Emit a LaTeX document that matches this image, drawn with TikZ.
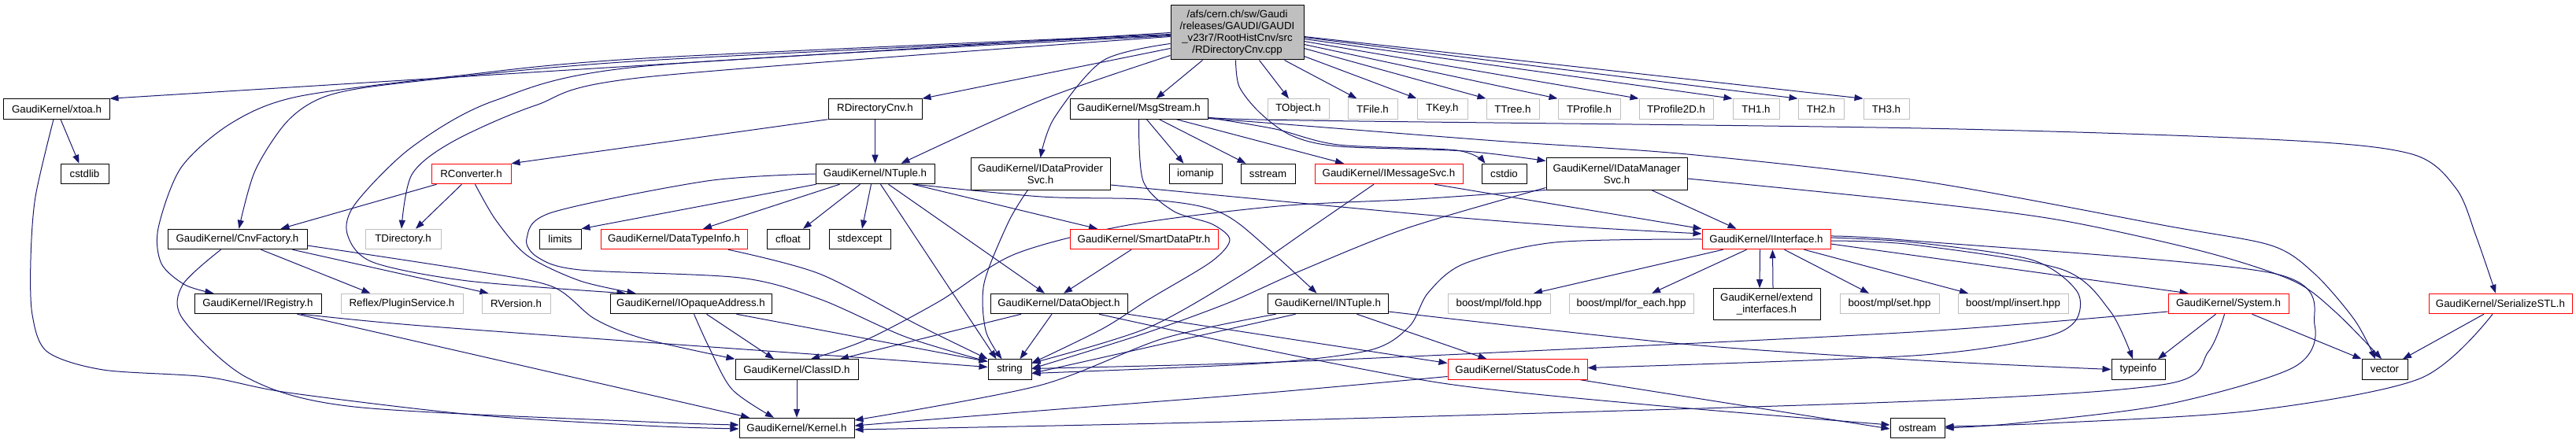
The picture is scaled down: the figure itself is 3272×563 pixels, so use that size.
\documentclass[tikz,border=0pt]{standalone}
\usepackage{fontspec}
\setmainfont{Liberation Sans}
\usetikzlibrary{arrows.meta}
\definecolor{lnkcol}{HTML}{191970}
\definecolor{graybd}{HTML}{BFBFBF}
\definecolor{rootfill}{HTML}{BFBFBF}
\pgfdeclarelayer{back}
\pgfdeclarelayer{bg}
\pgfsetlayers{back,bg,main}
\newcommand\nfont{\fontsize{13.3bp}{15bp}\selectfont}
\begin{document}
\begin{tikzpicture}[x=1bp,y=-1bp,
  nbox/.style={draw=black, line width=1bp, rectangle, inner sep=0pt, minimum height=25.5bp, font=\nfont, align=center, fill=white},
  gbox/.style={nbox, draw=graybd},
  rbox/.style={nbox, draw=red},
  lnk/.style={draw=lnkcol, line width=1bp, -{Triangle[length=11bp,width=8bp]}},
]
\useasboundingbox (0,0) rectangle (3272,563);
\begin{pgfonlayer}{back}
\fill[white] (0,0) rectangle (3272,563);
\end{pgfonlayer}

% ---- nodes
\node[nbox, minimum width=169bp, minimum height=69bp, fill=rootfill] (root) at (1571.5,41.5) {/afs/cern.ch/sw/Gaudi\\/releases/GAUDI/GAUDI\\\_v23r7/RootHistCnv/src\\/RDirectoryCnv.cpp};
% row 1
\node[nbox, minimum width=134bp] (xtoa) at (72,138.5) {GaudiKernel/xtoa.h};
\node[nbox, minimum width=119bp] (rdc) at (1111.5,138.5) {RDirectoryCnv.h};
\node[nbox, minimum width=175bp] (msg) at (1446.5,138.5) {GaudiKernel/MsgStream.h};
\node[gbox, minimum width=78bp] (tobj) at (1649,138.5) {TObject.h};
\node[gbox, minimum width=63bp] (tfile) at (1743.5,138.5) {TFile.h};
\node[gbox, minimum width=64bp] (tkey) at (1832,138.5) {TKey.h};
\node[gbox, minimum width=67bp] (ttree) at (1921.5,138.5) {TTree.h};
\node[gbox, minimum width=79bp] (tprof) at (2018.5,138.5) {TProfile.h};
\node[gbox, minimum width=94bp] (tprof2) at (2129,138.5) {TProfile2D.h};
\node[gbox, minimum width=59bp] (th1) at (2230.5,138.5) {TH1.h};
\node[gbox, minimum width=58bp] (th2) at (2313,138.5) {TH2.h};
\node[gbox, minimum width=58bp] (th3) at (2396,138.5) {TH3.h};
% row 2
\node[nbox, minimum width=61bp] (cstdlib) at (107.5,221) {cstdlib};
\node[rbox, minimum width=101bp] (rconv) at (598.5,221) {RConverter.h};
\node[nbox, minimum width=151bp] (ntuple) at (1111.5,221) {GaudiKernel/NTuple.h};
\node[nbox, minimum width=177bp, minimum height=40bp] (idps) at (1321.5,221) {GaudiKernel/IDataProvider\\Svc.h};
\node[nbox, minimum width=67bp] (iomanip) at (1518.5,221) {iomanip};
\node[nbox, minimum width=69bp] (sstream) at (1610.5,221) {sstream};
\node[rbox, minimum width=188bp] (imsg) at (1764,221) {GaudiKernel/IMessageSvc.h};
\node[nbox, minimum width=57bp] (cstdio) at (1910.5,221) {cstdio};
\node[nbox, minimum width=179bp, minimum height=40bp] (idms) at (2053.5,221) {GaudiKernel/IDataManager\\Svc.h};
% row 3
\node[nbox, minimum width=177bp] (cnvf) at (301.5,304) {GaudiKernel/CnvFactory.h};
\node[gbox, minimum width=96bp] (tdir) at (512,304) {TDirectory.h};
\node[nbox, minimum width=53bp] (limits) at (711.5,304) {limits};
\node[rbox, minimum width=186bp] (dti) at (856,304) {GaudiKernel/DataTypeInfo.h};
\node[nbox, minimum width=54bp] (cfloat) at (1001,304) {cfloat};
\node[nbox, minimum width=78bp] (stdexcept) at (1092,304) {stdexcept};
\node[rbox, minimum width=188bp] (sdp) at (1453,304) {GaudiKernel/SmartDataPtr.h};
\node[rbox, minimum width=163bp] (iif) at (2243.5,304) {GaudiKernel/IInterface.h};
% row 4
\node[nbox, minimum width=161bp] (ireg) at (327.5,386) {GaudiKernel/IRegistry.h};
\node[gbox, minimum width=155bp] (reflex) at (510.5,386) {Reflex/PluginService.h};
\node[gbox, minimum width=87bp] (rver) at (655.5,386) {RVersion.h};
\node[nbox, minimum width=205bp] (ioa) at (877.5,386) {GaudiKernel/IOpaqueAddress.h};
\node[nbox, minimum width=174bp] (dobj) at (1345,386) {GaudiKernel/DataObject.h};
\node[nbox, minimum width=153bp] (intuple) at (1686.5,386) {GaudiKernel/INTuple.h};
\node[gbox, minimum width=130bp] (fold) at (1904,386) {boost/mpl/fold.hpp};
\node[gbox, minimum width=158bp] (foreach) at (2072,386) {boost/mpl/for\_each.hpp};
\node[nbox, minimum width=136bp, minimum height=40bp] (extif) at (2244,386.7) {GaudiKernel/extend\\\_interfaces.h};
\node[gbox, minimum width=126bp] (mplset) at (2400,386) {boost/mpl/set.hpp};
\node[gbox, minimum width=140bp] (mplinsert) at (2557,386) {boost/mpl/insert.hpp};
\node[rbox, minimum width=153bp] (system) at (2830.5,386) {GaudiKernel/System.h};
\node[rbox, minimum width=182bp] (sstl) at (3176,386) {GaudiKernel/SerializeSTL.h};
% row 5
\node[nbox, minimum width=156bp] (classid) at (1012,469.5) {GaudiKernel/ClassID.h};
\node[nbox, minimum width=55bp] (string) at (1282.5,469.5) {string};
\node[rbox, minimum width=177bp] (status) at (1927.5,469.5) {GaudiKernel/StatusCode.h};
\node[nbox, minimum width=68bp] (typeinfo) at (2716,469.5) {typeinfo};
\node[nbox, minimum width=58bp] (vector) at (3029,469.5) {vector};
% row 6
\node[nbox, minimum width=146bp] (kernel) at (1012,544) {GaudiKernel/Kernel.h};
\node[nbox, minimum width=69bp] (ostream) at (2435.5,544) {ostream};

\begin{pgfonlayer}{bg}
% ---- root
\draw[lnk] (root.west) -- (xtoa.north east);
\draw[lnk] plot[smooth] coordinates {([yshift=-2bp]root.west) (820,74) (575,97) (377,123) (293,157) (230,213) (201,290) (205,335) (235,362) ([xshift=25bp]ireg.north west)};
\draw[lnk] plot[smooth] coordinates {([yshift=-3bp]root.west) (820,77) (523,104) (418,121) (366,153) (324,217) ([xshift=2bp]cnvf.north)};
\draw[lnk] plot[smooth] coordinates {([yshift=-4bp]root.west) (820,84) (628,128) (523,187) (452,258) (441,297) (473,333) (594,357) ([xshift=20bp]ioa.north west)};
\draw[lnk] plot[smooth] coordinates {([yshift=-5bp]root.west) (820,98) (680,134) (575,180) (523,222) ([xshift=-2bp]tdir.north)};
\draw[lnk] ([yshift=-20bp]root.west) -- (rdc.north east);
\draw[lnk] plot[smooth] coordinates {([yshift=-29bp]root.west) (1323,127) ([xshift=33bp]ntuple.north)};
\draw[lnk] plot[smooth] coordinates {([yshift=-14bp]root.west) (1401,77) (1339,150) (idps.north)};
\draw[lnk] ([xshift=-44bp]root.south) -- ([xshift=22bp]msg.north);
\draw[lnk] ([xshift=28bp]root.south) -- ([xshift=-12bp]tobj.north);
\draw[lnk] ([xshift=60bp]root.south) -- ([xshift=-20bp]tfile.north);
\draw[lnk] ([yshift=-30bp]root.east) -- (tkey.north west);
\draw[lnk] ([yshift=-20bp]root.east) -- (ttree.north west);
\draw[lnk] ([yshift=-15bp]root.east) -- (tprof.north west);
\draw[lnk] ([yshift=-11bp]root.east) -- (tprof2.north west);
\draw[lnk] ([yshift=-8bp]root.east) -- (th1.north west);
\draw[lnk] ([yshift=-6bp]root.east) -- (th2.north west);
\draw[lnk] ([yshift=-5bp]root.east) -- (th3.north west);
\draw[lnk] plot[smooth] coordinates {([xshift=-2bp]root.south) (1574,110) (1600,143) (1640,172) (1700,186) (1860,192) ([yshift=-4bp]idms.north west)};
% ---- MsgStream
\draw[lnk] ([xshift=10bp]msg.south) -- ([xshift=-15bp]iomanip.north);
\draw[lnk] ([xshift=26bp]msg.south) -- ([xshift=-28bp]sstream.north);
\draw[lnk] ([xshift=48bp]msg.south) -- ([xshift=-57bp]imsg.north);
\draw[lnk] plot[smooth] coordinates {([yshift=-11bp]msg.east) (1620,164) (1700,184) (1850,191) ([xshift=5bp]cstdio.north west)};
\draw[lnk] plot[smooth] coordinates {([yshift=-8bp]msg.east) (1620,152.5) (2440,163) (2900,178) (3064,196) (3120,240) (3145,300) ([xshift=-6bp]sstl.north)};
\draw[lnk] plot[smooth] coordinates {([yshift=-12bp]msg.east) (1620,157) (1900,179) (2143,196) (2440,230) (2752,287) (2885,312) (2940,348) (2991,407) ([xshift=-12bp]vector.north)};
\draw[lnk] plot[smooth] coordinates {(msg.south) (1452,230) (1490,268) (1540,285) (1562,305) (1538,333) (1460,380) (1400,418) ([yshift=8bp]string.east)};
% ---- RDirectoryCnv.h
\draw[lnk] (rdc) -- (ntuple);
\draw[lnk] (rdc.south west) -- (rconv.north east);
% ---- RConverter.h
\draw[lnk] ([xshift=-44bp]rconv.south) -- ([xshift=55bp]cnvf.north);
\draw[lnk] ([xshift=-12bp]rconv.south) -- ([xshift=16bp]tdir.north);
\draw[lnk] plot[smooth] coordinates {([xshift=5bp]rconv.south) (630,280) (670,325) (737,357) ([xshift=33bp]ioa.north west)};
% ---- xtoa.h
\draw[lnk] ([xshift=5bp]xtoa.south) -- ([xshift=-7bp]cstdlib.north);
\draw[lnk] plot[smooth] coordinates {([xshift=-4bp]xtoa.south) (45,250) (39,330) (41,400) (60,447) (131,470) (262,479) (366,499) (600,527) (820,541) ([yshift=-1bp]kernel.west)};
% ---- CnvFactory.h
\draw[lnk] plot[smooth] coordinates {([xshift=-21bp]cnvf.south) (232,362) (232,405) (314,480) (450,517) (820,536) ([yshift=4bp]kernel.west)};
\draw[lnk] ([xshift=30bp]cnvf.south) -- ([xshift=-40bp]reflex.north);
\draw[lnk] ([xshift=70bp]cnvf.south) -- ([xshift=-35bp]rver.north);
\draw[lnk] plot[smooth] coordinates {([yshift=-8bp]cnvf.east) (594,343) (701,364) (755,405) (816,430) (classid.north west)};
% ---- IRegistry.h
\draw[lnk] ([xshift=50bp]ireg.south) -- ([xshift=-60bp]kernel.north);
\draw[lnk] plot[smooth] coordinates {([xshift=55bp]ireg.south) (523,413) (820,435) (1100,455) ([yshift=3bp]string.west)};
% ---- IOpaqueAddress.h
\draw[lnk] ([xshift=20bp]ioa.south) -- ([xshift=-29bp]classid.north);
\draw[lnk] plot[smooth] coordinates {([xshift=4bp]ioa.south) (900,440) (930,495) ([xshift=-29bp]kernel.north)};
\draw[lnk] ([xshift=58bp]ioa.south) -- ([yshift=10bp]string.west);
% ---- ClassID.h
\draw[lnk] (classid) -- (kernel);
% ---- NTuple.h
\draw[lnk] ([xshift=-75bp]ntuple.south) -- (limits.north east);
\draw[lnk] ([xshift=-45bp]ntuple.south) -- ([xshift=37bp]dti.north);
\draw[lnk] ([xshift=-19bp]ntuple.south) -- ([xshift=19bp]cfloat.north);
\draw[lnk] ([xshift=-5bp]ntuple.south) -- ([xshift=3bp]stdexcept.north);
\draw[lnk] ([xshift=7bp]ntuple.south) -- ([xshift=-17bp]string.north);
\draw[lnk] ([xshift=17bp]ntuple.south) -- ([xshift=-18bp]dobj.north);
\draw[lnk] ([xshift=48bp]ntuple.south) -- ([xshift=-59bp]sdp.north);
\draw[lnk] plot[smooth] coordinates {([xshift=50bp]ntuple.south) (1323,250) (1450,253) (1528,263) (1576,286) ([xshift=-14bp]intuple.north)};
\draw[lnk] plot[smooth] coordinates {(ntuple.west) (898,230) (701,270) (669,303) (683,327) (737,343) (940,353) (1041,380) (1150,428) ([yshift=10bp]string.west)};
% ---- DataTypeInfo.h / SmartDataPtr.h
\draw[lnk] plot[smooth] coordinates {([xshift=69bp]dti.south) (1041,348) (1166,413) (string.north west)};
\draw[lnk] ([xshift=-16bp]sdp.south) -- ([xshift=6bp]dobj.north);
% ---- IDataProviderSvc.h
\draw[lnk] plot[smooth] coordinates {([xshift=-16bp]idps.south) (1281,282) (1250,360) (1252,420) ([xshift=-10bp]string.north)};
\draw[lnk] plot[smooth] coordinates {([yshift=-14bp]idps.east) (1800,272) (2000,288) ([yshift=7bp]iif.west)};
% ---- IMessageSvc.h
\draw[lnk] plot[smooth] coordinates {([xshift=-19bp]imsg.south) (1664,290) (1576,350) (1457,417) ([yshift=8bp]string.east)};
\draw[lnk] ([xshift=58bp]imsg.south) -- (iif.north west);
% ---- IDataManagerSvc.h
\draw[lnk] ([xshift=44bp]idms.south) -- ([xshift=-38bp]iif.north);
\draw[lnk] plot[smooth] coordinates {(idms.south west) (1800,253) (1624,262) (1433,286) (1289,323) (1193,383) (1100,432) ([xshift=18bp]classid.north)};
\draw[lnk] plot[smooth] coordinates {([yshift=3bp]idms.south west) (1787,290) (1650,345) (1560,385) (1450,425) ([yshift=1bp]string.east)};
\draw[lnk] plot[smooth] coordinates {([yshift=-6bp]idms.east) (2440,257) (2618,280) (2800,320) (2913,357) (2967,397) ([xshift=-4bp]vector.north)};
% ---- INTuple.h
\draw[lnk] ([xshift=-41bp]intuple.south) -- ([yshift=-5bp]string.east);
\draw[lnk] plot[smooth] coordinates {([xshift=-66bp]intuple.south) (1478,430) (1320,490) ([yshift=10bp]kernel.east)};
\draw[lnk] ([xshift=37bp]intuple.south) -- ([xshift=-39bp]status.north);
\draw[lnk] plot[smooth] coordinates {([yshift=-10bp]intuple.east) (2136,437) (2440,458) (typeinfo.west)};
% ---- DataObject.h
\draw[lnk] ([xshift=-48bp]dobj.south) -- ([xshift=55bp]classid.north);
\draw[lnk] ([xshift=-9bp]dobj.south) -- ([xshift=13bp]string.north);
\draw[lnk] (dobj.south east) -- ([yshift=8bp]status.west);
\draw[lnk] plot[smooth] coordinates {([xshift=51bp]dobj.south) (1600,443) (1839,488) (2100,515) ([yshift=4bp]ostream.west)};
% ---- StatusCode.h
\draw[lnk] ([xshift=80bp]status.south) -- ([yshift=-1bp]ostream.west);
\draw[lnk] plot[smooth] coordinates {([yshift=-9bp]status.west) (1600,500) (1320,522) ([yshift=3bp]kernel.east)};
% ---- IInterface.h
\draw[lnk] ([xshift=-55bp]iif.south) -- ([xshift=44bp]fold.north);
\draw[lnk] ([xshift=-25bp]iif.south) -- ([xshift=26bp]foreach.north);
\draw[lnk] ([xshift=-8bp]iif.south) -- ([xshift=-9bp]extif.north);
\draw[lnk] ([xshift=8bp]extif.north) -- ([xshift=8bp]iif.south);
\draw[lnk] ([xshift=23bp]iif.south) -- ([xshift=-26bp]mplset.north);
\draw[lnk] ([xshift=48bp]iif.south) -- ([xshift=-57bp]mplinsert.north);
\draw[lnk] ([yshift=-6bp]iif.east) -- ([xshift=-51bp]system.north);
\draw[lnk] plot[smooth] coordinates {([yshift=-2bp]iif.east) (2430,311) (2618,342) (2680,395) ([xshift=-7bp]typeinfo.north)};
\draw[lnk] plot[smooth] coordinates {([yshift=2bp]iif.east) (2430,308) (2580,330) (2638,370) (2636,408) (2590,430) (2430,452) ([yshift=2bp]status.east)};
\draw[lnk] plot[smooth] coordinates {([yshift=4bp]iif.east) (2430,306) (2886,347) (2940,413) (2913,467) (2752,514) (2560,538) (ostream.east)};
\draw[lnk] plot[smooth] coordinates {(iif.west) (1975,308) (1860,335) (1814,372) (1790,415) (1740,445) (1600,462) ([yshift=-5bp]string.east)};
% ---- System.h
\draw[lnk] ([xshift=-16bp]system.south) -- ([xshift=25bp]typeinfo.north);
\draw[lnk] ([xshift=30bp]system.south) -- (vector.north west);
\draw[lnk] plot[smooth] coordinates {([yshift=-10bp]system.west) (2430,422) (1900,448) (1600,461) ([yshift=1bp]string.east)};
\draw[lnk] plot[smooth] coordinates {([xshift=-5bp]system.south) (2805,447) (2752,488) (2430,510) (1600,535) ([yshift=-2bp]kernel.east)};
% ---- SerializeSTL.h
\draw[lnk] ([xshift=-21bp]sstl.south) -- ([xshift=23bp]vector.north);
\draw[lnk] plot[smooth] coordinates {([xshift=-10bp]sstl.south) (3074,481) (2860,522) (2600,538) ([yshift=2bp]ostream.east)};
\end{pgfonlayer}
\end{tikzpicture}
\end{document}
